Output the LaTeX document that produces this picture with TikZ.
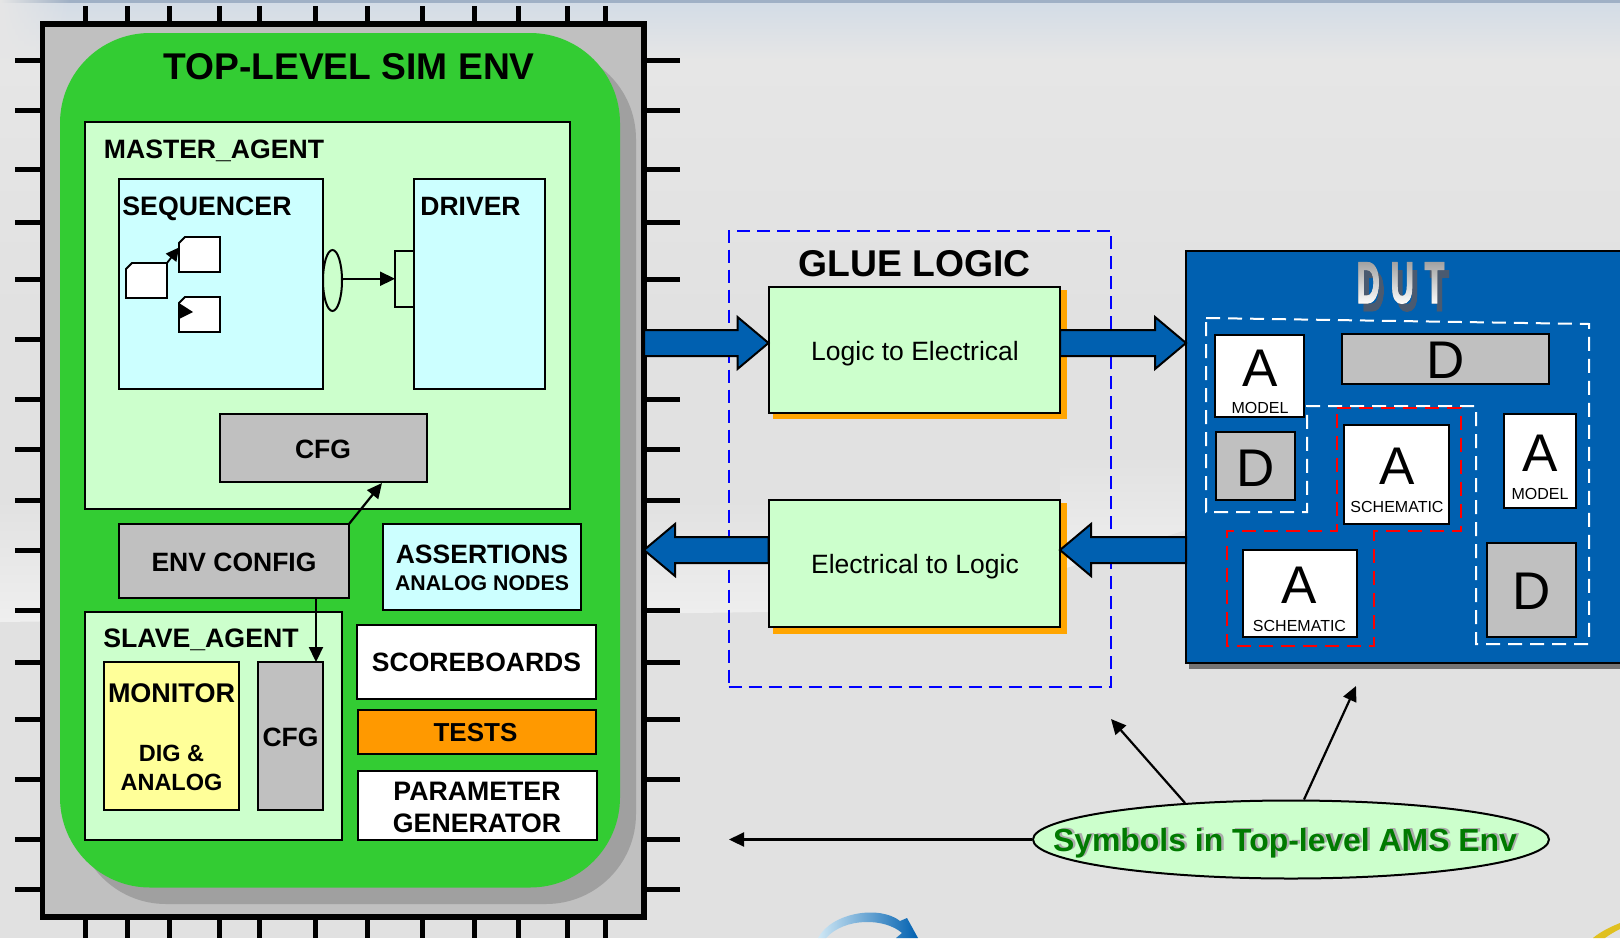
\documentclass[tikz,border=0pt]{standalone}
\usepackage{fontspec}
\setmainfont{Liberation Sans}
\newfontfamily\dutf[UprightFont=* Bold,UprightFeatures={FakeBold=3}]{Liberation Sans}
\usetikzlibrary{arrows.meta,shapes.geometric,calc,fadings}
\definecolor{bgc}{HTML}{E1E1E1}
\definecolor{E6c}{HTML}{E6E6E6}
\definecolor{D3c}{HTML}{D3DCE6}
\definecolor{F0c}{HTML}{EFEFEF}
\definecolor{topb}{HTML}{9FB0C5}
\definecolor{swa}{HTML}{D0E8F5}
\definecolor{swb}{HTML}{00A0E0}
\definecolor{swy}{HTML}{E0C020}
\definecolor{dutsh}{HTML}{4A5A70}
\definecolor{chipg}{HTML}{C0C0C0}
\definecolor{shg}{HTML}{A0A0A0}
\definecolor{envg}{HTML}{33CC33}
\definecolor{lgreen}{HTML}{CCFFCC}
\definecolor{lcyan}{HTML}{CCFFFF}
\definecolor{lyell}{HTML}{FFFF99}
\definecolor{orng}{HTML}{FF9900}
\definecolor{orsh}{HTML}{FFA500}
\definecolor{dblue}{HTML}{0060B0}
\definecolor{symg}{HTML}{007A00}
\tikzset{
  x=1pt,y=-1pt,
  bx/.style={draw=black,line width=2pt,rectangle,inner sep=0pt,outer sep=0pt},
  wbox/.style={bx,fill=white},
  gbox/.style={bx,fill=chipg},
  lgbox/.style={bx,fill=lgreen},
  cybox/.style={bx,fill=lcyan},
  arr/.style={line width=2.2pt,-{Triangle[length=15pt,width=14pt]}},
  bigarrow/.style={draw=black,line width=2pt,fill=dblue,line join=miter},
  whdash/.style={draw=white,line width=2pt,dash pattern=on 14pt off 8pt},
  reddash/.style={draw=red,line width=2pt,dash pattern=on 14pt off 8pt}
}
\newcommand\bxn[6]{\node[#6,minimum width={(#4-#2)*1pt},minimum height={(#5-#3)*1pt}] (#1) at ({(#2+#4)/2},{(#3+#5)/2}) {};}
\newcommand\tx[6]{\node[anchor=base,inner sep=0pt,font=\fontsize{#4}{#4}\selectfont #5] (#1) at (#2,{#3+0.358*#4}) {#6};}
\newcommand\itm[3]{\node[inner sep=0pt,outer sep=0pt,minimum width=41pt,minimum height=35pt] (#1) at (#2,#3) {};
  \draw[line width=1.8pt,fill=white] ([xshift=6pt]#1.north west) -- (#1.north east) -- (#1.south east) -- (#1.south west) -- ([yshift=-6pt]#1.north west) -- cycle;}
\newcommand\blockarrow[3]{\draw[bigarrow] let \p1=(#1),\p2=(#2) in
  (\x1,\y1+13pt) -- (\x2-#3*31pt,\y1+13pt) -- (\x2-#3*31pt,\y1+26pt) -- (\x2,\y1) -- (\x2-#3*31pt,\y1-26pt) -- (\x2-#3*31pt,\y1-13pt) -- (\x1,\y1-13pt) -- cycle;}
\newcommand\dutword{\scalebox{.55}[1]{D\kern20ptU\kern20ptT}}
\begin{tikzfadingfrompicture}[name=dutmask]
\node[inner sep=0pt,text=transparent!0,font=\fontsize{58}{58}\selectfont\dutf] {\dutword};
\end{tikzfadingfrompicture}
\begin{tikzfadingfrompicture}[name=symmask]
\node[inner sep=0pt,text=transparent!0,font=\fontsize{31.9}{32}\selectfont\bfseries] {Symbols in Top-level AMS Env};
\end{tikzfadingfrompicture}
\begin{document}
\begin{tikzpicture}
\path[use as bounding box] (0,0) rectangle (1620,938);
\clip (0,0) rectangle (1620,938);
% background
\fill[bgc] (0,0) rectangle (1620,938);
\shade[top color=E6c,bottom color=bgc] (0,60) rectangle (1620,320);
\shade[top color=D3c,bottom color=E6c] (0,3) rectangle (1620,60);
\fill[topb] (0,0) rectangle (1620,3);
\fill[E6c,path fading=east] (0,0) rectangle (70,62);
\shade[top color=bgc,bottom color=F0c] (0,500) -- (915,500) -- (915,610) -- (770,612) -- (0,622) -- cycle;
\shade[top color=bgc,bottom color=F0c] (1060,455) -- (1186,455) -- (1186,530) -- (1060,570) -- cycle;
\shade[left color=swa,middle color=swb,right color=dblue] (818,938) .. controls (832,912) and (880,905) .. (900,921) -- (907,918) -- (918,938) -- (896,938) -- (902,933) .. controls (885,918) and (845,917) .. (826,938) -- cycle;
\fill[swy] (1593,938) .. controls (1600,932) and (1610,927) .. (1620,923) -- (1620,929) .. controls (1614,932) and (1609,935) .. (1605,938) -- cycle;
% pins
\foreach \px in {85,127,169,219,259,315,367,422,474,518,567,605} {
  \draw[black,line width=5pt] (\px,6) -- (\px,30);
  \draw[black,line width=5pt] (\px,910) -- (\px,938);
}
\foreach \py in {60,110,169,222,279,339,399,449,500,550,610,662,719,779,839,889} {
  \draw[black,line width=5pt] (15,\py) -- (50,\py);
  \draw[black,line width=5pt] (640,\py) -- (680,\py);
}
% chip
\bxn{chip}{42.5}{24}{644}{917}{draw=black,line width=5.5pt,fill=chipg,inner sep=0pt,outer sep=0pt}
\fill[shg,rounded corners=90pt] (76,49) rectangle (636,904);
\bxn{env}{60}{33}{620}{887.5}{fill=envg,rounded corners=90pt,inner sep=0pt}
\tx{title}{349}{66}{37.2}{\bfseries}{TOP-LEVEL SIM ENV}
% master
\bxn{master}{85}{122}{570}{508.5}{lgbox}
\tx{mastert}{214}{149}{26.6}{\bfseries}{MASTER\_AGENT}
\bxn{seq}{119}{179}{323}{389}{cybox}
\tx{seqt}{207}{206}{26.7}{\bfseries}{SEQUENCER}
\bxn{drv}{414}{179}{545}{389}{cybox}
\tx{drvt}{470.5}{206.5}{26.5}{\bfseries}{DRIVER}
\itm{it1}{146.5}{280.5}
\itm{it2}{199.5}{254.5}
\itm{it3}{199.5}{314.5}
\draw[line width=1.8pt,-{Triangle[length=13pt,width=13pt]}] (it1.north east) -- ([yshift=7pt]it2.west);
\fill[black] (179,303) -- (193,312) -- (179,319) -- cycle;
\node[ellipse,draw=black,line width=2pt,fill=lgreen,inner sep=0pt,minimum width=19pt,minimum height=61pt] (port) at (332.5,280.5) {};
\bxn{imp}{395}{250.5}{414}{307}{lgbox}
\draw[arr] (port.east |- imp.west) -- (imp.west);
\bxn{cfgA}{220}{413.5}{427}{482}{gbox}
\tx{cfgAt}{323}{449}{26.5}{\bfseries}{CFG}
% lower left
\bxn{envc}{119}{524}{349}{598}{gbox}
\tx{envct}{234}{562.5}{26.5}{\bfseries}{ENV CONFIG}
\bxn{assert}{383}{524}{581}{610}{cybox}
\tx{assertt}{482}{554.5}{26.5}{\bfseries}{ASSERTIONS}
\tx{assertb}{482}{583}{21.3}{\bfseries}{ANALOG NODES}
\bxn{slave}{85}{611.5}{342}{839.5}{lgbox}
\tx{slavet}{201}{638}{26.7}{\bfseries}{SLAVE\_AGENT}
\bxn{mon}{104}{662}{239}{810}{bx,fill=lyell}
\tx{mont}{171.5}{692.5}{27}{\bfseries}{MONITOR}
\tx{monb}{171.5}{753.5}{23.5}{\bfseries}{DIG \&}
\tx{monc}{171.5}{782.5}{23.5}{\bfseries}{ANALOG}
\bxn{cfgB}{258}{662}{323}{810}{gbox}
\tx{cfgBt}{290.5}{737}{26.5}{\bfseries}{CFG}
\bxn{score}{357}{624.5}{596}{699}{wbox}
\tx{scoret}{476.5}{662.5}{26.5}{\bfseries}{SCOREBOARDS}
\bxn{tests}{358}{709.5}{596}{753.5}{bx,fill=orng}
\tx{testst}{475.5}{732}{26}{\bfseries}{TESTS}
\bxn{param}{358}{770.5}{597}{839.5}{wbox}
\tx{paramt}{477}{790.5}{26.7}{\bfseries}{PARAMETER}
\tx{paramb}{477}{822.5}{26.7}{\bfseries}{GENERATOR}
\coordinate (cfgAtip) at (382,483);
\draw[arr] (envc.north east) -- (cfgAtip);
\coordinate (cfgBtop) at (316,662);
\draw[arr] (envc.south -| cfgBtop) -- (cfgBtop);
% glue
\bxn{glue}{728.5}{230.5}{1111}{686.5}{draw=blue,line width=2pt,dash pattern=on 13pt off 7pt,inner sep=0pt}
\tx{gluet}{914.5}{263}{37.3}{\bfseries}{GLUE LOGIC}
\fill[orsh] (773,290) rectangle (1067,419);
\fill[orsh] (773,503) rectangle (1067,634);
\bxn{letoe}{768.5}{287}{1060}{413}{lgbox}
\tx{letoet}{915}{351.5}{26.5}{}{Logic to Electrical}
\bxn{etol}{768.5}{500}{1060}{627}{lgbox}
\tx{etolt}{915}{564.5}{26.5}{}{Electrical to Logic}
% dut
\fill[gray!90!black] (1189,255) rectangle (1620,669);
\bxn{dut}{1186}{250.5}{1640}{663}{bx,fill=dblue}
\coordinate (r1) at (0,343);
\coordinate (r2) at (0,550);
\blockarrow{chip.east |- r1}{letoe.west |- r1}{1}
\blockarrow{letoe.east |- r1}{dut.west |- r1}{1}
\blockarrow{etol.west |- r2}{chip.east |- r2}{-1}
\blockarrow{dut.west |- r2}{etol.east |- r2}{-1}
% DUT lettering: shadow, real text, gradient
\fill[dutsh,path fading=dutmask,fit fading=false,fading transform={shift={(1405.5,291)}}] (1340,250) rectangle (1470,330);
\node[inner sep=0pt,text=shg,font=\fontsize{58}{58}\selectfont\dutf] (dutt) at (1400.5,283) {\dutword};
\shade[top color=shg,bottom color=white,path fading=dutmask,fit fading=false,fading transform={shift={(1400.5,283)}}] (1340,261) rectangle (1470,305);
\draw[whdash] (1206,318) -- (1589,324) -- (1589,644) -- (1476,644) -- (1476,406) -- (1307,406) -- (1307,512) -- (1206,512) -- cycle;
\draw[reddash] (1337,408) -- (1461,408) -- (1461,531) -- (1374,531) -- (1374,646) -- (1227,646) -- (1227,531) -- (1337,531) -- cycle;
\bxn{am1}{1215}{335}{1304}{417}{wbox}
\tx{am1a}{1260}{368}{53}{}{A}
\tx{am1m}{1260}{408}{16}{}{MODEL}
\bxn{d1}{1342}{334}{1549}{384}{gbox}
\tx{d1t}{1446}{360}{53}{}{D}
\bxn{d2}{1216}{432}{1295}{500}{gbox}
\tx{d2t}{1256}{467.5}{53}{}{D}
\bxn{as1}{1344}{424.5}{1449}{524}{wbox}
\tx{as1a}{1397}{466}{53}{}{A}
\tx{as1s}{1397}{507}{16}{}{SCHEMATIC}
\bxn{am2}{1504}{414}{1576}{508}{wbox}
\tx{am2a}{1540}{453}{53}{}{A}
\tx{am2m}{1540}{494}{16}{}{MODEL}
\bxn{d3}{1487}{543}{1576}{636.5}{gbox}
\tx{d3t}{1532}{591}{53}{}{D}
\bxn{as2}{1243}{550}{1357}{636.5}{wbox}
\tx{as2a}{1299.5}{585}{53}{}{A}
\tx{as2s}{1299.5}{626}{16}{}{SCHEMATIC}
% symbols
\node[ellipse,draw=black,line width=2pt,fill=lgreen,inner sep=0pt,minimum width=516pt,minimum height=78pt] (sym) at (1291,839.5) {};
\coordinate (e1) at (729,839.5);
\coordinate (e2) at (1111,719);
\coordinate (e3) at (1356,686);
\draw[arr] (sym.west) -- (e1);
\draw[arr] (sym.161.5) -- (e2);
\draw[arr] (sym.72) -- (e3);
\fill[gray!65,path fading=symmask,fit fading=false,fading transform={shift={(1287.5,842)}}] (1040,810) rectangle (1540,875);
\tx{symt}{1285}{840}{31.9}{\bfseries\color{symg}}{Symbols in Top-level AMS Env}
\end{tikzpicture}
\end{document}
